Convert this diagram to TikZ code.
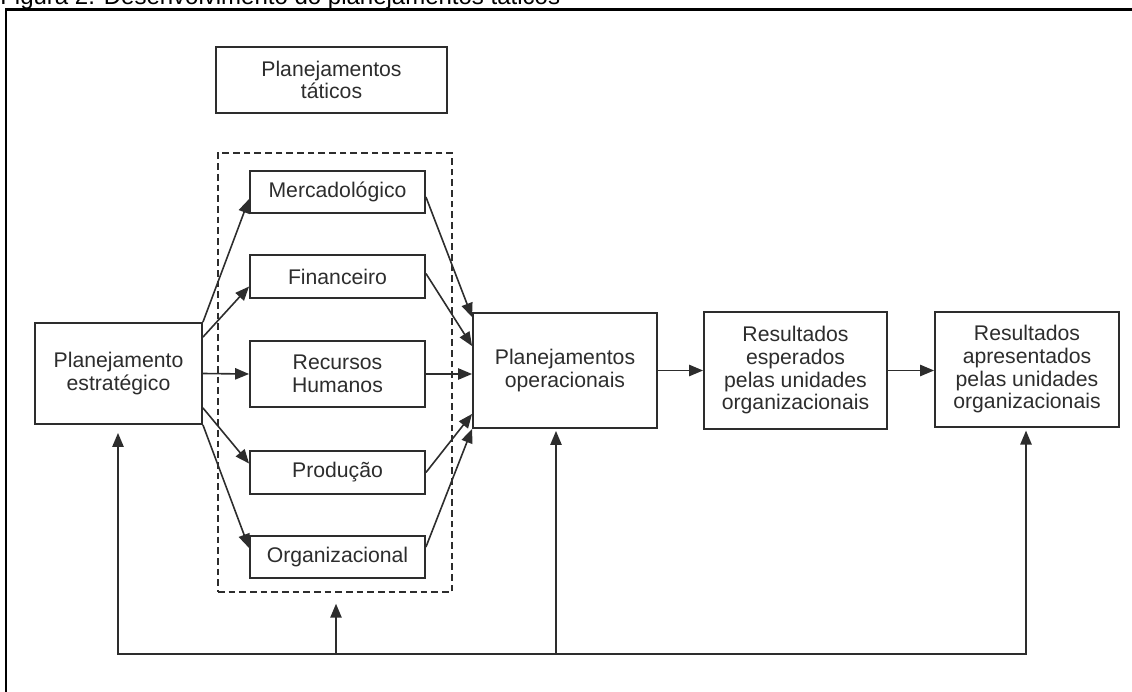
\documentclass[tikz,border=0pt]{standalone}
\usepackage{fontspec}
\setmainfont{Liberation Sans}
\usepackage{xcolor}
\usetikzlibrary{arrows.meta,calc}

\definecolor{traco}{RGB}{45,45,45}

\begin{document}
\begin{tikzpicture}[x=0.75pt,y=0.75pt,yscale=-1,xscale=1,
	bloco/.style={draw=traco,line width=1.4pt,fill=white,inner sep=0pt,align=center,text=traco,font=\fontsize{15.9}{17}\selectfont},
	seta/.style={draw=traco,line width=1.2pt,-{Triangle[length=10.5pt,width=8.5pt]}},
	linha/.style={draw=traco,line width=1.2pt,line cap=rect}]
			\useasboundingbox (0,0) rectangle (1132,692);
			\clip (0,0) rectangle (1132,692);
			
			%Shape: Frame
			\draw [line width=1.6pt] (6,9.5) rectangle (1140,720);
			% Text Node
			\node [anchor=base west,inner sep=0pt,font=\fontsize{18}{20}\selectfont] (titulo) at (0,5) {Figura 2. Desenvolvimento do planejamentos táticos};
			
			%Shape: Rectangle
			\node [bloco,minimum width=173.25pt,minimum height=49.5pt] (taticos) at (331.5,80) {Planejamentos\\táticos};
			%Shape: Dashed group
			\node [draw=traco,line width=1.1pt,dash pattern=on 5pt off 3pt,inner sep=0pt,minimum width=175.5pt,minimum height=329.25pt] (grupo) at (335,372.5) {};
			
			%Shape: Tactical boxes
			\node [bloco,minimum width=131.25pt,minimum height=32pt] (merc) at (337.5,192) {Mercadológico};
			\node [bloco,minimum width=131.25pt,minimum height=32pt] (fin) at (337.5,276.5) {Financeiro};
			\node [bloco,minimum width=131.25pt,minimum height=49.5pt] (rh) at (337.5,374) {Recursos\\Humanos};
			\node [bloco,minimum width=131.25pt,minimum height=32pt] (prod) at (337.5,472.5) {Produção};
			\node [bloco,minimum width=131.25pt,minimum height=32pt] (org) at (337.5,557) {Organizacional};
			
			%Shape: Main boxes
			\node [bloco,minimum width=125.25pt,minimum height=75.75pt] (est) at (118.5,373.5) {Planejamento\\estratégico};
			\node [bloco,minimum width=138pt,minimum height=86.25pt] (op) at (565,370.5) {Planejamentos\\operacionais};
			\node [bloco,minimum width=137.25pt,minimum height=87.75pt] (esp) at (795.5,370.5) {Resultados\\esperados\\pelas unidades\\organizacionais};
			\node [bloco,minimum width=138pt,minimum height=86.25pt] (apr) at (1027,369.5) {Resultados\\apresentados\\pelas unidades\\organizacionais};
			
			%Straight Lines: strategic to tactical
			\draw [seta] (est.north east) -- ($(merc.west)+(0,7)$);
			\draw [seta] ($(est.north east)+(0,15)$) -- ($(fin.west)+(0,10)$);
			\draw [seta] (est.east) -- (rh.west);
			\draw [seta] ($(est.south east)+(0,-17)$) -- ($(prod.west)+(0,-9)$);
			\draw [seta] (est.south east) -- ($(org.west)+(0,-9)$);
			
			%Straight Lines: tactical to operational
			\draw [seta] ($(merc.east)+(0,5)$) -- ($(op.north west)+(0,5)$);
			\draw [seta] ($(fin.east)+(0,-3)$) -- ($(op.north west)+(0,34)$);
			\draw [seta] (rh.east) -- (rh.east -| op.west);
			\draw [seta] (prod.east) -- ($(op.south west)+(0,-15)$);
			\draw [seta] ($(org.east)+(0,-10)$) -- (op.south west);
			
			%Straight Lines: results
			\draw [seta] (op.east) -- (esp.west);
			\draw [seta] (esp.east) -- (esp.east -| apr.west);
			
			%Straight Lines: feedback
			\coordinate (fbE) at (118,654);
			\coordinate (fbT) at (336,654);
			\coordinate (fbO) at (556,654);
			\coordinate (fbA) at (1026,654);
			\draw [linha] (fbE) -- (fbA);
			\draw [seta,shorten >=6pt] (fbE) -- (fbE |- est.south);
			\draw [seta,shorten >=8.25pt] (fbT) -- (fbT |- grupo.south);
			\draw [seta,shorten >=1.5pt] (fbO) -- (fbO |- op.south);
			\draw [seta,shorten >=2pt] (fbA) -- (fbA |- apr.south);
			
\end{tikzpicture}
\end{document}
